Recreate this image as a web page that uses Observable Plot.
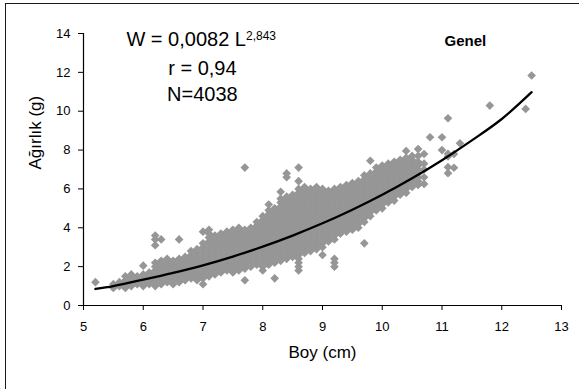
<!DOCTYPE html>
<html><head><meta charset="utf-8">
<script src="https://cdn.jsdelivr.net/npm/d3@7"></script>
<script src="https://cdn.jsdelivr.net/npm/@observablehq/plot@0.6"></script>
<style>
html,body{margin:0;padding:0;background:#fff;overflow:hidden;}
#wrap{position:relative;width:579px;height:389px;overflow:hidden;}
#frame{position:absolute;left:5px;top:3px;width:800px;height:700px;border-left:1.6px solid #1a1a1a;border-top:1.6px solid #1a1a1a;box-sizing:border-box;pointer-events:none;}
#wrap svg{position:absolute;left:0;top:0;}
</style></head><body><div id="wrap"><div id="chart"></div><div id="frame"></div></div>
<script>
// Tick labels
const xTicks = [5, 6, 7, 8, 9, 10, 11, 12, 13];
const yTicks = [0, 2, 4, 6, 8, 10, 12, 14];

// Scatter: columns of Boy (cm) with the Ağırlık (g) values read in each column
const cloud = [
  [5.2, [1.2]],
  [5.5, [0.9, 1.1]],
  [5.6, [1.0, 1.2]],
  [5.7, [0.9, 1.1, 1.3, 1.5]],
  [5.8, [1.0, 1.2, 1.4, 1.6]],
  [5.9, [1.1, 1.3, 1.5]],
  [6.0, [1.0, 1.2, 1.4, 1.6, 2.05]],
  [6.1, [1.1, 1.3, 1.5, 1.7]],
  [6.2, [1.0, 1.2, 1.4, 1.6, 1.8, 2.0, 2.2, 3.1, 3.4, 3.6]],
  [6.3, [1.1, 1.3, 1.5, 1.7, 1.9, 2.1, 2.3, 3.4]],
  [6.4, [1.2, 1.4, 1.6, 1.8, 2.0, 2.2, 2.4]],
  [6.5, [1.1, 1.3, 1.5, 1.7, 1.9, 2.1, 2.3]],
  [6.6, [1.2, 1.4, 1.6, 1.8, 2.0, 2.2, 2.4, 3.4]],
  [6.7, [1.3, 1.5, 1.7, 1.9, 2.1, 2.3, 2.5]],
  [6.8, [1.4, 1.6, 1.8, 2.0, 2.2, 2.4, 2.6, 2.8]],
  [6.9, [1.3, 1.5, 1.7, 1.9, 2.1, 2.3, 2.5, 2.7, 2.9]],
  [7.0, [1.1, 1.4, 1.6, 1.8, 2.0, 2.2, 2.4, 2.6, 2.8, 3.0, 3.2, 3.8]],
  [7.1, [1.5, 1.7, 1.9, 2.1, 2.3, 2.5, 2.7, 2.9, 3.1, 3.3, 3.5, 3.7, 3.9]],
  [7.2, [1.6, 1.8, 2.0, 2.2, 2.4, 2.6, 2.8, 3.0, 3.2, 3.4, 3.6]],
  [7.3, [1.7, 1.9, 2.1, 2.3, 2.5, 2.7, 2.9, 3.1, 3.3, 3.5, 3.7]],
  [7.4, [1.8, 2.0, 2.2, 2.4, 2.6, 2.8, 3.0, 3.2, 3.4, 3.6, 3.8]],
  [7.5, [1.7, 1.9, 2.1, 2.3, 2.5, 2.7, 2.9, 3.1, 3.3, 3.5, 3.7, 3.9]],
  [7.6, [1.8, 2.0, 2.2, 2.4, 2.6, 2.8, 3.0, 3.2, 3.4, 3.6, 3.8, 4.0]],
  [7.7, [1.3, 1.9, 2.1, 2.3, 2.5, 2.7, 2.9, 3.1, 3.3, 3.5, 3.7, 3.9, 7.1]],
  [7.8, [2.0, 2.2, 2.4, 2.6, 2.8, 3.0, 3.2, 3.4, 3.6, 3.8, 4.0]],
  [7.9, [2.1, 2.3, 2.5, 2.7, 2.9, 3.1, 3.3, 3.5, 3.7, 3.9, 4.1, 4.3]],
  [8.0, [1.8, 2.0, 2.2, 2.4, 2.6, 2.8, 3.0, 3.2, 3.4, 3.6, 3.8, 4.0, 4.2, 4.4, 4.6]],
  [8.1, [2.1, 2.3, 2.5, 2.7, 2.9, 3.1, 3.3, 3.5, 3.7, 3.9, 4.1, 4.3, 4.5, 4.7, 4.9, 5.2]],
  [8.2, [1.4, 2.2, 2.4, 2.6, 2.8, 3.0, 3.2, 3.4, 3.6, 3.8, 4.0, 4.2, 4.4, 4.6, 4.8, 5.0]],
  [8.3, [2.3, 2.5, 2.7, 2.9, 3.1, 3.3, 3.5, 3.7, 3.9, 4.1, 4.3, 4.5, 4.7, 4.9, 5.1, 5.3, 5.5, 5.85]],
  [8.4, [2.4, 2.6, 2.8, 3.0, 3.2, 3.4, 3.6, 3.8, 4.0, 4.2, 4.4, 4.6, 4.8, 5.0, 5.2, 5.4, 5.6, 6.6, 6.8]],
  [8.5, [2.5, 2.7, 2.9, 3.1, 3.3, 3.5, 3.7, 3.9, 4.1, 4.3, 4.5, 4.7, 4.9, 5.1, 5.3, 5.5, 5.7]],
  [8.6, [1.8, 2.0, 2.2, 2.4, 2.6, 2.8, 3.0, 3.2, 3.4, 3.6, 3.8, 4.0, 4.2, 4.4, 4.6, 4.8, 5.0, 5.2, 5.4, 5.6, 5.8, 6.0, 6.4, 7.1]],
  [8.7, [2.7, 2.9, 3.1, 3.3, 3.5, 3.7, 3.9, 4.1, 4.3, 4.5, 4.7, 4.9, 5.1, 5.3, 5.5, 5.7, 5.9, 6.1]],
  [8.8, [2.8, 3.0, 3.2, 3.4, 3.6, 3.8, 4.0, 4.2, 4.4, 4.6, 4.8, 5.0, 5.2, 5.4, 5.6, 5.8, 6.0]],
  [8.9, [2.9, 3.1, 3.3, 3.5, 3.7, 3.9, 4.1, 4.3, 4.5, 4.7, 4.9, 5.1, 5.3, 5.5, 5.7, 5.9, 6.1]],
  [9.0, [2.6, 3.0, 3.2, 3.4, 3.6, 3.8, 4.0, 4.2, 4.4, 4.6, 4.8, 5.0, 5.2, 5.4, 5.6, 5.8, 6.0]],
  [9.1, [3.3, 3.5, 3.7, 3.9, 4.1, 4.3, 4.5, 4.7, 4.9, 5.1, 5.3, 5.5, 5.7, 5.9]],
  [9.2, [2.0, 2.2, 2.4, 3.4, 3.6, 3.8, 4.0, 4.2, 4.4, 4.6, 4.8, 5.0, 5.2, 5.4, 5.6, 5.8, 6.0]],
  [9.3, [3.7, 3.9, 4.1, 4.3, 4.5, 4.7, 4.9, 5.1, 5.3, 5.5, 5.7, 5.9, 6.1]],
  [9.4, [3.8, 4.0, 4.2, 4.4, 4.6, 4.8, 5.0, 5.2, 5.4, 5.6, 5.8, 6.0, 6.2]],
  [9.5, [3.9, 4.1, 4.3, 4.5, 4.7, 4.9, 5.1, 5.3, 5.5, 5.7, 5.9, 6.1, 6.3]],
  [9.6, [4.0, 4.2, 4.4, 4.6, 4.8, 5.0, 5.2, 5.4, 5.6, 5.8, 6.0, 6.2, 6.4]],
  [9.7, [3.2, 4.3, 4.5, 4.7, 4.9, 5.1, 5.3, 5.5, 5.7, 5.9, 6.1, 6.3, 6.5, 6.7]],
  [9.8, [4.6, 4.8, 5.0, 5.2, 5.4, 5.6, 5.8, 6.0, 6.2, 6.4, 6.6, 6.8, 7.45]],
  [9.9, [4.9, 5.1, 5.3, 5.5, 5.7, 5.9, 6.1, 6.3, 6.5, 6.7, 6.9, 7.1]],
  [10.0, [5.0, 5.2, 5.4, 5.6, 5.8, 6.0, 6.2, 6.4, 6.6, 6.8, 7.0, 7.2]],
  [10.1, [5.3, 5.5, 5.7, 5.9, 6.1, 6.3, 6.5, 6.7, 6.9, 7.1, 7.3]],
  [10.2, [5.4, 5.6, 5.8, 6.0, 6.2, 6.4, 6.6, 6.8, 7.0, 7.2, 7.4]],
  [10.3, [5.7, 5.9, 6.1, 6.3, 6.5, 6.7, 6.9, 7.1, 7.3, 7.5]],
  [10.4, [5.8, 6.0, 6.2, 6.4, 6.6, 6.8, 7.0, 7.2, 7.4, 7.6, 7.95]],
  [10.5, [6.1, 6.3, 6.5, 6.7, 6.9, 7.1, 7.3, 7.5, 7.7]],
  [10.6, [6.2, 6.4, 6.6, 6.8, 7.0, 7.2, 7.4, 7.7, 8.05]],
  [10.7, [6.26, 6.6, 7.0, 7.3, 7.8]],
  [10.8, [8.66]],
  [11.0, [8.0, 8.66]],
  [11.1, [6.81, 7.12, 7.67, 7.81, 9.64]],
  [11.2, [7.09, 7.8]],
  [11.3, [8.35]],
  [11.8, [10.29]],
  [12.4, [10.12]],
  [12.5, [11.84]]
];

// Fitted curve W = 0,0082 L^2,843
const egriBoy = [5.2, 5.5, 6.0, 6.5, 7.0, 7.5, 8.0, 8.5, 9.0, 9.5, 10.0, 10.5, 11.0, 11.5, 12.0, 12.5];
const egriAgirlik = [0.85, 1.0, 1.33, 1.68, 2.07, 2.52, 3.03, 3.6, 4.23, 4.93, 5.7, 6.55, 7.48, 8.5, 9.6, 10.98];

const points = cloud.flatMap(([boy, ys]) => ys.map(agirlik => ({boy, agirlik})));
const curve = egriBoy.map((boy, i) => ({boy, agirlik: egriAgirlik[i]}));

const font = "'Liberation Sans', Arial, sans-serif";

const chart = Plot.plot({
  width: 579,
  height: 389,
  marginLeft: 83,
  marginRight: 18,
  marginTop: 33,
  marginBottom: 84,
  style: {fontFamily: font, background: "transparent", color: "#000", overflow: "visible"},
  x: {domain: [5, 13]},
  y: {domain: [0, 14]},
  marks: [
    Plot.dot(points, {x: "boy", y: "agirlik", symbol: "diamond2", r: 3.9, fill: "#969696", stroke: null}),
    Plot.line(curve, {x: "boy", y: "agirlik", stroke: "#000", strokeWidth: 2.3, curve: "catmull-rom"}),
    Plot.ruleX([5], {stroke: "#000", strokeWidth: 1.2}),
    Plot.ruleY([0], {stroke: "#000", strokeWidth: 1.2}),
    Plot.axisX(xTicks, {tickSize: 5, tickPadding: 11, fontSize: 13, label: null, tickFormat: d => String(d)}),
    Plot.axisY(yTicks, {tickSize: 5, tickPadding: 8, fontSize: 13, label: null, tickFormat: d => String(d)}),
    Plot.text(["Boy (cm)"], {frameAnchor: "bottom", dy: 52, fontSize: 17, text: d => d}),
    Plot.text(["Ağırlık (g)"], {frameAnchor: "left", dx: -48, rotate: -90, fontSize: 17, text: d => d}),
    Plot.text(["W = 0,0082 L"], {x: 6.97, y: 13.7, fontSize: 20, text: d => d}),
    Plot.text(["r = 0,94"], {x: 6.99, y: 12.2, fontSize: 20, text: d => d}),
    Plot.text(["N=4038"], {x: 6.99, y: 10.87, fontSize: 20, text: d => d}),
    Plot.text(["Genel"], {x: 11.39, y: 13.59, fontSize: 15, fontWeight: "bold", text: d => d})
  ]
});

d3.select(chart).selectAll("text")
  .filter(function() { return this.textContent === "W = 0,0082 L"; })
  .append("tspan")
  .attr("dy", "-0.5em")
  .attr("font-size", 12)
  .text("2,843");

document.getElementById("chart").appendChild(chart);
</script>
</body></html>
